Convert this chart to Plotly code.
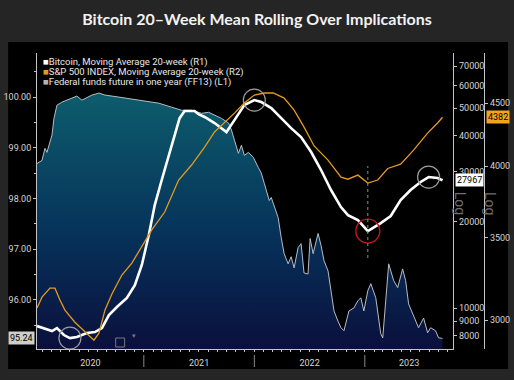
import numpy as np
import pandas as pd
import plotly.graph_objects as go

# ---------------- data (x as decimal years) ----------------
btc_t = [2020.036, 2020.099, 2020.171, 2020.216, 2020.279, 2020.333, 2020.396, 2020.486, 2020.559, 2020.622,
         2020.685, 2020.757, 2020.847, 2020.919, 2020.982, 2021.045, 2021.099, 2021.162, 2021.225, 2021.279,
         2021.324, 2021.369, 2021.459, 2021.495, 2021.550, 2021.640, 2021.748, 2021.820, 2021.910, 2022.000,
         2022.063, 2022.153, 2022.243, 2022.333, 2022.423, 2022.514, 2022.604, 2022.694, 2022.784, 2022.847,
         2022.937, 2023.027, 2023.144, 2023.234, 2023.324, 2023.414, 2023.505, 2023.577, 2023.658, 2023.703]
btc_v = [8650, 8510, 8310, 8510, 8045, 7850, 7920, 8180, 8240, 8510,
         9450, 10080, 10840, 12030, 14140, 17990, 22900, 28030, 34270, 40260,
         46130, 48850, 48850, 47660, 46550, 44350, 41240, 45390, 51290, 53340,
         52500, 50030, 46130, 42570, 39600, 35110, 30380, 25860, 22540, 21130,
         20310, 18580, 19820, 20980, 23860, 25860, 27580, 28710, 28480, 27967]

spx_t = [2020.036, 2020.081, 2020.153, 2020.198, 2020.243, 2020.288, 2020.378, 2020.468, 2020.550, 2020.595,
         2020.649, 2020.712, 2020.802, 2020.892, 2020.982, 2021.072, 2021.189, 2021.315, 2021.432, 2021.550,
         2021.640, 2021.730, 2021.820, 2021.910, 2022.000, 2022.090, 2022.171, 2022.270, 2022.360, 2022.450,
         2022.541, 2022.667, 2022.784, 2022.847, 2022.937, 2023.027, 2023.117, 2023.207, 2023.324, 2023.441,
         2023.568, 2023.658, 2023.703]
spx_v = [3068, 3131, 3184, 3184, 3114, 3056, 2988, 2938, 2889, 2927,
         3056, 3150, 3263, 3337, 3439, 3550, 3671, 3897, 4008, 4145,
         4263, 4335, 4416, 4500, 4568, 4585, 4585, 4542, 4441, 4302,
         4153, 4045, 3918, 3903, 3933, 3875, 3897, 3982, 4015, 4121,
         4254, 4335, 4382]

ff_t = [2020.036, 2020.081, 2020.108, 2020.126, 2020.171, 2020.189, 2020.216, 2020.261, 2020.351, 2020.396,
        2020.441, 2020.532, 2020.595, 2020.649, 2020.775, 2020.892, 2021.009, 2021.135, 2021.252, 2021.342,
        2021.432, 2021.523, 2021.586, 2021.640, 2021.703, 2021.766, 2021.793, 2021.820, 2021.856, 2021.883,
        2021.910, 2021.946, 2021.991, 2022.036, 2022.063, 2022.090, 2022.135, 2022.153, 2022.180, 2022.216,
        2022.243, 2022.270, 2022.306, 2022.333, 2022.360, 2022.396, 2022.423, 2022.450, 2022.486, 2022.505,
        2022.532, 2022.577, 2022.604, 2022.631, 2022.667, 2022.721, 2022.757, 2022.784, 2022.811, 2022.856,
        2022.901, 2022.937, 2022.964, 2022.991, 2023.027, 2023.054, 2023.099, 2023.144, 2023.162, 2023.189,
        2023.216, 2023.261, 2023.297, 2023.342, 2023.369, 2023.396, 2023.432, 2023.459, 2023.486, 2023.532,
        2023.568, 2023.595, 2023.640, 2023.667, 2023.703]
ff_v = [98.69, 98.75, 98.99, 98.91, 99.25, 99.58, 99.84, 99.90, 99.98, 100.02,
        99.94, 100.04, 100.08, 100.04, 100.00, 99.96, 99.92, 99.88, 99.80, 99.74,
        99.74, 99.68, 99.70, 99.64, 99.58, 99.49, 99.35, 99.15, 98.89, 99.05,
        98.85, 98.91, 98.81, 98.61, 98.50, 98.30, 97.96, 98.02, 97.86, 97.62,
        97.23, 96.91, 96.71, 96.85, 96.63, 97.03, 97.11, 96.53, 96.51, 97.21,
        96.91, 97.31, 97.07, 96.77, 96.57, 95.78, 95.58, 95.45, 95.39, 95.78,
        95.84, 95.98, 96.04, 95.78, 96.18, 96.32, 96.04, 95.33, 95.25, 95.98,
        96.71, 96.38, 96.24, 96.61, 96.38, 95.92, 95.74, 95.58, 95.45, 95.64,
        95.35, 95.45, 95.39, 95.25, 95.24]

year_labels = ["2020", "2021", "2022", "2023"]
year_label_pos = [2020.518, 2021.50, 2022.50, 2023.401]
btc_ticks = [8000, 9000, 10000, 20000, 30000, 40000, 50000, 60000, 70000]
spx_ticks = [3000, 3500, 4000, 4500]
ff_ticks = [96, 97, 98, 99, 100]


def yr2date(t):
    y = int(t)
    start = pd.Timestamp(year=y, month=1, day=1)
    ndays = (pd.Timestamp(year=y + 1, month=1, day=1) - start).days
    return start + pd.Timedelta(days=(t - y) * ndays)


btc_x = [yr2date(t) for t in btc_t]
spx_x = [yr2date(t) for t in spx_t]
ff_x = [yr2date(t) for t in ff_t]

# pixel helpers for paper placement (plot area: x 35..510 paper, y 53..349)
W, H = 514, 380
ML, MR, MT, MB = 35, 4, 53, 31
PW, PH = W - ML - MR, H - MT - MB


def px(x):
    return (x - ML) / PW


def py(y):
    return (H - MB - y) / PH


tick_font = dict(family="Roboto", size=9, color="#d6d6d6")
axis_col = "#c4c4c4"

fig = go.Figure()

fig.add_trace(go.Scatter(
    x=ff_x, y=ff_v, mode="lines", fill="tozeroy", yaxis="y",
    line=dict(color="#b8bcc4", width=1),
    fillgradient=dict(type="vertical", start=95.0, stop=100.1,
                      colorscale=[[0, "#0b0f3c"], [0.45, "#06325a"], [1, "#0d5d6c"]]),
    showlegend=False, hoverinfo="skip"))

fig.add_trace(go.Scatter(
    x=spx_x, y=spx_v, mode="lines", yaxis="y3",
    line=dict(color="#e39a1f", width=1.3), showlegend=False))

fig.add_trace(go.Scatter(
    x=btc_x, y=btc_v, mode="lines", yaxis="y2",
    line=dict(color="#ffffff", width=2.6), showlegend=False))

# circle highlights on Bitcoin line
i_low1 = int(np.argmin(btc_v[:12]))
i_peak = int(np.argmax(btc_v))
i_low2 = int(np.argmin(btc_v[30:])) + 30
i_end = int(np.argmax(btc_v[45:])) + 45
fig.add_trace(go.Scatter(
    x=[btc_x[i_low1], btc_x[i_peak], btc_x[i_end]],
    y=[btc_v[i_low1], btc_v[i_peak], btc_v[i_end]],
    mode="markers", yaxis="y2",
    marker=dict(symbol="circle-open", size=22, color="#9c9c9c", line=dict(width=1.2)),
    showlegend=False))
fig.add_trace(go.Scatter(
    x=[btc_x[i_low2]], y=[btc_v[i_low2]], mode="markers", yaxis="y2",
    marker=dict(symbol="circle-open", size=24, color="#c0161c", line=dict(width=1.4)),
    showlegend=False))

shapes = [
    # black chart panel
    dict(type="rect", xref="paper", yref="paper", x0=px(6), x1=px(508), y0=py(369), y1=py(42),
         fillcolor="#000000", line=dict(width=0), layer="below"),
    # dotted vertical marker at the bitcoin low
    dict(type="line", xref="x", yref="paper", x0=btc_x[i_low2], x1=btc_x[i_low2],
         y0=py(258), y1=py(166), line=dict(color="#8c8c8c", width=1, dash="dot")),
    # small chart icon
    dict(type="rect", xref="paper", yref="paper", x0=px(114), x1=px(123), y0=py(347), y1=py(338),
         line=dict(color="#7a7a7a", width=1), fillcolor="rgba(0,0,0,0)"),
]
for yr in [2021, 2022, 2023]:
    shapes.append(dict(type="line", xref="x", yref="paper",
                       x0=pd.Timestamp(year=yr, month=1, day=1), x1=pd.Timestamp(year=yr, month=1, day=1),
                       y0=py(355), y1=py(367), line=dict(color="#8a8a8a", width=1)))

annotations = []
legend_items = [
    ("#ffffff", "Bitcoin, Moving Average 20-week (R1)"),
    ("#e39a1f", "S&P 500 INDEX, Moving Average 20-week (R2)"),
    ("#b4b4b4", "Federal funds future in one year (FF13) (L1)"),
]
for k, (c, txt) in enumerate(legend_items):
    annotations.append(dict(
        xref="paper", yref="paper", x=px(39), y=py(62 + 10 * k), xanchor="left", yanchor="middle",
        text=f'<span style="color:{c}">■</span>{txt}', showarrow=False,
        font=dict(family="Roboto", size=9.5, color="#e8e8e8")))

# last value tags
annotations.append(dict(xref="paper", yref="y2", x=px(455), y=np.log10(btc_v[-1]), xanchor="left",
                        yanchor="middle", text=f"{btc_v[-1]}", showarrow=False, bgcolor="#ffffff",
                        borderpad=1, font=dict(family="Roboto", size=9, color="#000000")))
annotations.append(dict(xref="paper", yref="y3", x=px(486), y=np.log10(spx_v[-1]), xanchor="left",
                        yanchor="middle", text=f"{spx_v[-1]}", showarrow=False, bgcolor="#f2a51c",
                        borderpad=1, font=dict(family="Roboto", size=9, color="#000000")))
annotations.append(dict(xref="paper", yref="y", x=px(33), y=ff_v[-1], xanchor="right",
                        yanchor="middle", text=f"{ff_v[-1]:.2f}", showarrow=False, bgcolor="#cdcdcd",
                        borderpad=1, font=dict(family="Roboto", size=9, color="#000000")))
# "Log" axis notes
for xx in [470, 500]:
    annotations.append(dict(xref="paper", yref="paper", x=px(xx), y=py(203), text="Log",
                            textangle=90, showarrow=False,
                            font=dict(family="Roboto", size=14, color="#6e6e6e")))
annotations.append(dict(xref="paper", yref="paper", x=px(128), y=py(342), text="▾", showarrow=False,
                        font=dict(size=7, color="#7a7a7a")))

fig.update_layout(
    width=W, height=H,
    margin=dict(l=ML, r=MR, t=MT, b=MB),
    paper_bgcolor="#252525", plot_bgcolor="#000000",
    title=dict(text="<b>Bitcoin 20–Week Mean Rolling Over Implications</b>", x=0.5, xanchor="center",
               y=1 - 19 / H, yanchor="middle",
               font=dict(family="Lato", size=16, color="#f2f2f2")),
    showlegend=False,
    xaxis=dict(domain=[0, px(453)], type="date",
               range=[yr2date(2020.036), yr2date(2023.80)],
               showline=True, linecolor=axis_col, linewidth=1, showgrid=False, zeroline=False,
               tickvals=[yr2date(t) for t in year_label_pos], ticktext=year_labels,
               ticks="", tickfont=tick_font, ticklabelstandoff=5,
               minor=dict(tick0="2020-01-01", dtick="M1", ticks="outside", ticklen=2,
                          tickcolor=axis_col, showgrid=False)),
    yaxis=dict(range=[95.03, 100.87], side="left", showline=True, linecolor=axis_col, linewidth=1,
               showgrid=False, zeroline=False, tickvals=ff_ticks, tickformat=".2f",
               ticks="outside", ticklen=3, tickcolor=axis_col, tickfont=tick_font,
               minor=dict(tick0=95, dtick=0.5, ticks="outside", ticklen=2, tickcolor=axis_col)),
    yaxis2=dict(type="log", overlaying="y", side="right", anchor="x",
                range=[np.log10(7190), np.log10(77930)],
                showline=True, linecolor=axis_col, linewidth=1, showgrid=False, zeroline=False,
                tickvals=btc_ticks, ticktext=[str(v) for v in btc_ticks],
                ticks="outside", ticklen=3, tickcolor=axis_col, tickfont=tick_font),
    yaxis3=dict(type="log", overlaying="y", side="right", anchor="free", position=px(484),
                range=[np.log10(2842), np.log10(4941)],
                showline=True, linecolor=axis_col, linewidth=1, showgrid=False, zeroline=False,
                tickvals=spx_ticks, ticktext=[str(v) for v in spx_ticks],
                ticks="outside", ticklen=3, tickcolor=axis_col, tickfont=tick_font),
    shapes=shapes, annotations=annotations,
)

fig.write_html("out.html", config={"displayModeBar": False},
               post_script="document.body.style.margin='0';document.body.style.background='#252525';")
